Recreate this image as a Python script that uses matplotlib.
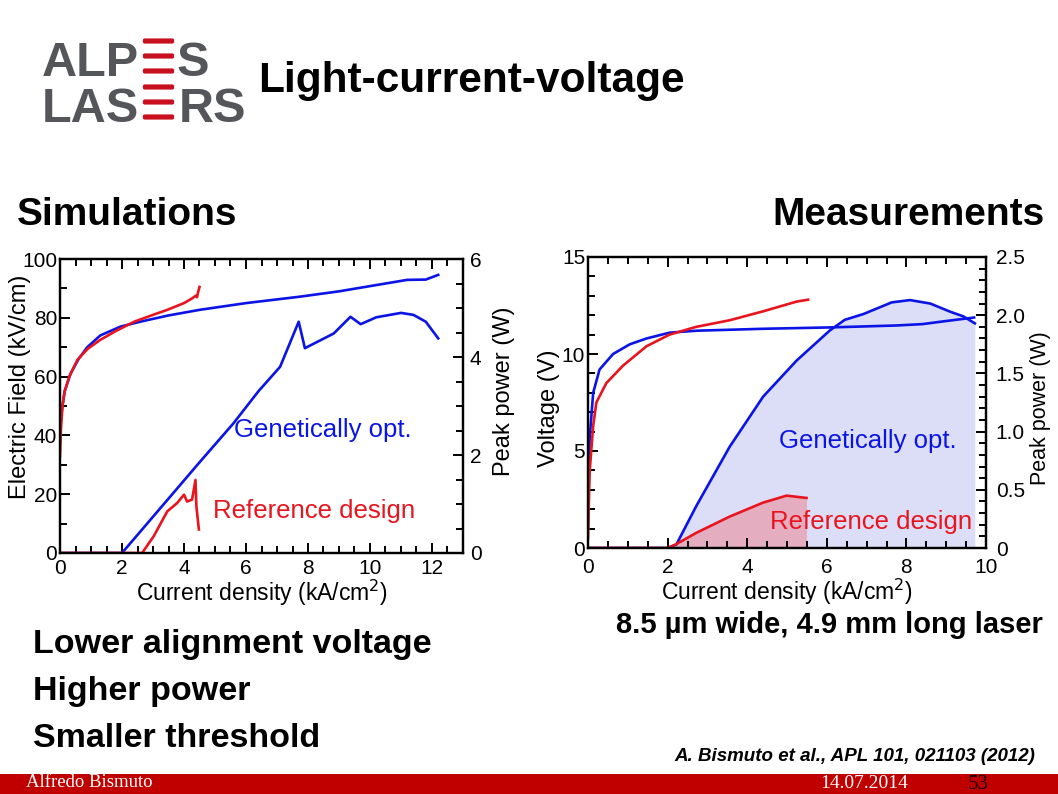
import matplotlib
matplotlib.use("Agg")
from matplotlib import pyplot as plt
from matplotlib import ticker
from matplotlib.patches import FancyBboxPatch, Rectangle

plt.rcParams["font.family"] = ["Liberation Sans", "DejaVu Sans"]

W, H = 1058, 794

#: Simulations - electric field (kV/cm) versus current density (kA/cm2).
sim_j_e_gen = [0.0, 0.03, 0.08, 0.15, 0.34, 0.6, 0.88, 1.3, 1.95, 2.6, 3.5, 4.5,
               6.0, 7.75, 9.0, 9.9, 11.2, 11.8, 12.2]
sim_e_gen = [42, 46, 50, 55, 61, 66, 70, 74, 77, 78.7, 80.8, 82.7,
             85, 87.2, 89, 90.6, 92.9, 93, 94.6]
sim_j_e_ref = [0.0, 0.03, 0.08, 0.15, 0.3, 0.56, 0.9, 1.3, 1.8, 2.4, 3.0, 3.46,
               4.0, 4.26, 4.38, 4.42, 4.45, 4.5]
sim_e_ref = [33, 42, 50, 55, 60, 65.7, 69.5, 72.5, 75.5, 78.7, 81, 82.7,
             85, 86.6, 87.5, 87, 88.5, 90.5]

#: Simulations - peak power (W).
sim_j_p_gen = [0.0, 2.0, 3.46, 4.5, 5.6, 6.4, 7.1, 7.7, 7.9, 8.83, 9.37, 9.7,
               10.2, 11.0, 11.4, 11.8, 12.2]
sim_p_gen = [0.0, 0.0, 1.08, 1.85, 2.65, 3.3, 3.8, 4.72, 4.18, 4.48, 4.82, 4.67,
             4.81, 4.9, 4.86, 4.72, 4.38]
sim_j_p_ref = [0.0, 2.65, 3.03, 3.46, 3.78, 4.0, 4.1, 4.26, 4.37, 4.4, 4.48]
sim_p_ref = [0.0, 0.0, 0.35, 0.85, 1.02, 1.19, 1.05, 1.09, 1.49, 0.95, 0.48]

#: Measurements - voltage (V).
meas_j_v_gen = [0.0, 0.04, 0.13, 0.29, 0.63, 1.05, 1.47, 2.05, 2.72, 4.4, 6.08,
                7.75, 8.4, 9.0, 9.7]
meas_v_gen = [1.0, 5.6, 8.0, 9.2, 10.0, 10.5, 10.8, 11.1, 11.2, 11.3, 11.37,
              11.47, 11.54, 11.7, 11.88]
meas_j_v_ref = [0.0, 0.04, 0.13, 0.21, 0.46, 0.88, 1.47, 2.05, 2.72, 3.56, 4.4,
                5.24, 5.53]
meas_v_ref = [0.5, 3.9, 6.3, 7.5, 8.5, 9.4, 10.4, 11.0, 11.4, 11.74, 12.2,
              12.7, 12.8]

#: Measurements - peak power (W).
meas_j_p_gen = [0.0, 2.0, 2.22, 2.72, 3.56, 4.4, 5.24, 6.08, 6.45, 6.92, 7.63,
                8.09, 8.6, 9.1, 9.43, 9.72]
meas_p_gen = [0.0, 0.0, 0.03, 0.36, 0.87, 1.3, 1.61, 1.87, 1.96, 2.01, 2.11,
              2.13, 2.1, 2.03, 1.99, 1.93]
meas_j_p_ref = [0.0, 2.0, 2.2, 2.72, 3.56, 4.4, 4.99, 5.49]
meas_p_ref = [0.0, 0.0, 0.03, 0.13, 0.27, 0.39, 0.45, 0.43]

bullets = ["Lower alignment voltage", "Higher power", "Smaller threshold"]

BLUE = "#0a14e6"
RED = "#e8141e"
TICK = 15
LABEL = 16.5
NOTE = 18.5


def px(x, y):
    """Slide pixel position -> figure fraction."""
    return x / W, 1 - y / H


def box(x0, y0, x1, y1):
    return [x0 / W, 1 - y1 / H, (x1 - x0) / W, (y1 - y0) / H]


def ylabel(a, text, xpos, ypos=0.5, size=LABEL):
    a.set_ylabel(text, fontsize=size)
    a.yaxis.label.set_va("center")
    a.yaxis.set_label_coords(xpos, ypos)


def style(ax, ax2, xmax, xmaj, xmin, ymaj, ymin, y2maj, y2min, xpad, rpad):
    for a in (ax, ax2):
        for s in a.spines.values():
            s.set_linewidth(1.6)
    ax.xaxis.set_major_locator(ticker.MultipleLocator(xmaj))
    ax.xaxis.set_minor_locator(ticker.MultipleLocator(xmin))
    ax.yaxis.set_major_locator(ticker.MultipleLocator(ymaj))
    ax.yaxis.set_minor_locator(ticker.MultipleLocator(ymin))
    ax2.yaxis.set_major_locator(ticker.MultipleLocator(y2maj))
    ax2.yaxis.set_minor_locator(ticker.MultipleLocator(y2min))
    ax.tick_params(which="both", direction="in", top=True, right=False,
                   labelsize=TICK, width=1.4)
    ax.tick_params(axis="y", pad=2)
    ax.tick_params(axis="x", pad=xpad)
    ax2.tick_params(which="both", direction="in", labelsize=TICK, width=1.4,
                    pad=rpad)
    for a in (ax, ax2):
        a.tick_params(which="major", length=7)
        a.tick_params(which="minor", length=5)
    ax.set_xlim(0, xmax)
    ax.set_xlabel("Current density (kA/cm$^2$)", fontsize=LABEL, labelpad=0)


fig = plt.figure(figsize=(W / 100, H / 100), dpi=100)

# --- simulations -------------------------------------------------------------
ax = fig.add_axes(box(60, 259, 463, 553))
ax2 = ax.twinx()
ax.plot(sim_j_e_gen, sim_e_gen, color=BLUE, lw=1.9)
ax.plot(sim_j_e_ref, sim_e_ref, color=RED, lw=1.9)
ax2.plot(sim_j_p_gen, sim_p_gen, color=BLUE, lw=1.9)
ax2.plot(sim_j_p_ref, sim_p_ref, color=RED, lw=1.9)
ax.set_ylim(0, 100)
ax2.set_ylim(0, 6)
style(ax, ax2, 13, 2, 0.5, 20, 10, 2, 0.5, xpad=4, rpad=5)
ylabel(ax, "Electric Field (kV/cm)", -0.099, 0.565, 17)
ylabel(ax2, "Peak power (W)", 1.102, 0.55, 17)
ax.text(5.6, 39.5, "Genetically opt.", color=BLUE, fontsize=NOTE)
ax.text(4.95, 11.9, "Reference design", color=RED, fontsize=NOTE)

# --- measurements ------------------------------------------------------------
bx = fig.add_axes(box(588, 257, 986, 548))
bx2 = bx.twinx()
bx.set_zorder(bx2.get_zorder() + 1)
bx.patch.set_visible(False)
bx2.fill_between(meas_j_p_gen, meas_p_gen, color="#dcdef8", lw=0)
bx2.fill_between(meas_j_p_ref, meas_p_ref, color="#e4aec0", lw=0)
bx2.plot(meas_j_p_gen, meas_p_gen, color=BLUE, lw=1.9)
bx2.plot(meas_j_p_ref, meas_p_ref, color=RED, lw=1.9)
bx.plot(meas_j_v_gen, meas_v_gen, color=BLUE, lw=1.9)
bx.plot(meas_j_v_ref, meas_v_ref, color=RED, lw=1.9)
bx.set_ylim(0, 15)
bx2.set_ylim(0, 2.5)
style(bx, bx2, 10, 2, 0.5, 5, 1, 0.5, 0.1, xpad=7, rpad=7)
bx2.yaxis.set_major_formatter(
    ticker.FuncFormatter(lambda v, p: "0" if abs(v) < 1e-9 else f"{v:.1f}"))
ylabel(bx, "Voltage (V)", -0.098, 0.48, 17)
ylabel(bx2, "Peak power (W)", 1.138, 0.48, 15.5)
bx.text(4.8, 5.15, "Genetically opt.", color=BLUE, fontsize=NOTE)
bx.text(4.57, 0.98, "Reference design", color=RED, fontsize=NOTE)

# --- slide decoration --------------------------------------------------------
GREY = "#55565a"
LOGO_RED = "#c8101e"
logo = dict(fontsize=35, color=GREY, va="baseline", fontweight="bold")
fig.text(*px(42, 76), "ALP", **logo)
fig.text(*px(177, 76), "S", **logo)
fig.text(*px(42, 122), "LAS", **logo)
fig.text(*px(179, 122), "RS", **logo)
for yc in (41, 56, 71, 87, 102, 117):
    fig.patches.append(FancyBboxPatch(px(145, yc + 1), 27 / W, 2 / H,
                                      boxstyle="round,pad=0.002",
                                      transform=fig.transFigure,
                                      color=LOGO_RED, lw=0))

fig.text(*px(258, 92), "Light-current-voltage", fontsize=30.5,
         fontweight="bold", va="baseline")
fig.text(*px(17, 225), "Simulations", fontsize=28, fontweight="bold",
         va="baseline")
fig.text(*px(1045, 225), "Measurements", fontsize=28, fontweight="bold",
         va="baseline", ha="right")
for i, b in enumerate(bullets):
    fig.text(*px(33, 653 + 47 * i), b, fontsize=24.5, fontweight="bold",
             va="baseline")
fig.text(*px(1043, 633), "8.5 µm wide, 4.9 mm long laser", fontsize=21,
         fontweight="bold", va="baseline", ha="right")
fig.text(*px(1035, 761), "A. Bismuto et al., APL 101, 021103 (2012)",
         fontsize=13.5, fontweight="bold", style="italic", va="baseline",
         ha="right")

fig.patches.append(Rectangle(px(0, 794), 1, 20 / H, transform=fig.transFigure,
                             color="#c00000", lw=0))
serif = ["Liberation Serif", "DejaVu Serif"]
fig.text(*px(26, 787), "Alfredo Bismuto", fontsize=13.5, color="white",
         family=serif, va="baseline")
fig.text(*px(820, 788), "14.07.2014", fontsize=14, color="white",
         family=serif, va="baseline")
fig.text(*px(968, 789), "53", fontsize=15, color="#1a0000",
         family=serif, va="baseline")

fig.savefig("out.png", dpi=100)
